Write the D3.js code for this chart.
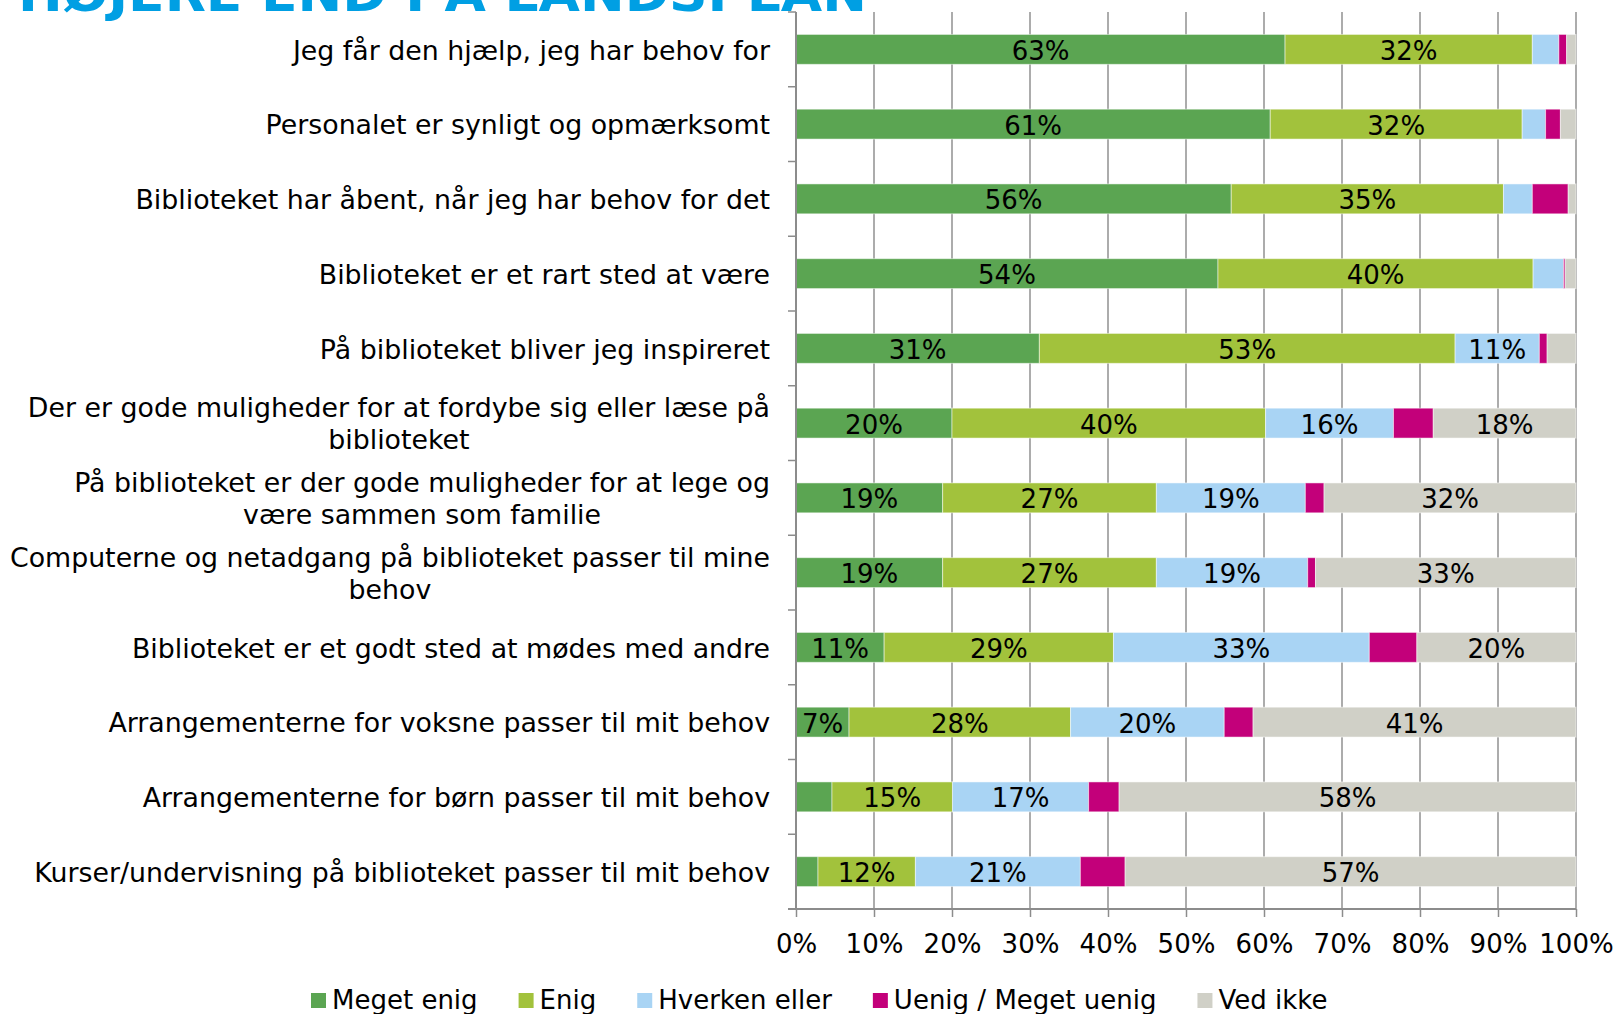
<!DOCTYPE html>
<html>
<head>
<meta charset="utf-8">
<script src="https://cdn.jsdelivr.net/npm/d3@7"></script>
<style>
  body { margin: 0; background: #fff; }
  text { font-family: "DejaVu Sans", Verdana, sans-serif; fill: #000; }
</style>
</head>
<body>
<svg id="chart" width="1618" height="1014"></svg>
<script>
const categories = [
  'Jeg får den hjælp, jeg har behov for',
  'Personalet er synligt og opmærksomt',
  'Biblioteket har åbent, når jeg har behov for det',
  'Biblioteket er et rart sted at være',
  'På biblioteket bliver jeg inspireret',
  'Der er gode muligheder for at fordybe sig eller læse på\nbiblioteket',
  'På biblioteket er der gode muligheder for at lege og\nvære sammen som familie',
  'Computerne og netadgang på biblioteket passer til mine\nbehov',
  'Biblioteket er et godt sted at mødes med andre',
  'Arrangementerne for voksne passer til mit behov',
  'Arrangementerne for børn passer til mit behov',
  'Kurser/undervisning på biblioteket passer til mit behov'
];

const seriesNames = ['Meget enig', 'Enig', 'Hverken eller', 'Uenig / Meget uenig', 'Ved ikke'];
const seriesColors = ['#5ba552', '#a2c23c', '#a9d4f4', '#c3007a', '#d0d0c7'];

const megetEnig = [62.7, 60.8, 55.8, 54.1, 31.2, 20.0, 18.8, 18.8, 11.3, 6.8, 4.6, 2.8];
const enig      = [31.7, 32.3, 34.9, 40.4, 53.3, 40.2, 27.4, 27.4, 29.4, 28.4, 15.4, 12.4];
const hverken   = [3.4, 3.0, 3.7, 3.9, 10.8, 16.4, 19.1, 19.4, 32.8, 19.7, 17.4, 21.0];
const uenig     = [1.0, 1.9, 4.6, 0.2, 1.0, 5.1, 2.4, 1.0, 6.1, 3.7, 3.9, 5.7];
const vedIkke   = [1.2, 2.0, 1.0, 1.4, 3.7, 18.3, 32.3, 33.4, 20.4, 41.4, 58.4, 57.4];

const xTicks = [0, 0.1, 0.2, 0.3, 0.4, 0.5, 0.6, 0.7, 0.8, 0.9, 1];
const title = 'HØJERE END PÅ LANDSPLAN';

const values = [megetEnig, enig, hverken, uenig, vedIkke];
const table = categories.map((c, i) => {
  const row = { category: c };
  seriesNames.forEach((s, j) => { row[s] = values[j][i]; });
  return row;
});

const stacked = d3.stack()
  .keys(seriesNames)
  .offset(d3.stackOffsetExpand)(table);

const svg = d3.select('#chart');

const xScale = d3.scaleLinear()
  .domain([0, 1])
  .range([796, 1576]);

const yScale = d3.scaleBand()
  .domain(categories)
  .range([12, 909])
  .paddingInner(0.6)
  .paddingOuter(0.3);

const color = d3.scaleOrdinal().domain(seriesNames).range(seriesColors);

// title, mostly cut off by the top edge (as in the source slide)
svg.append('text')
  .attr('x', 18)
  .attr('y', 11)
  .attr('textLength', 849)
  .attr('lengthAdjust', 'spacingAndGlyphs')
  .style('font-size', '50px')
  .style('font-weight', 'bold')
  .style('fill', '#009fe3')
  .text(title);

// gridlines
svg.append('g')
  .selectAll('line')
  .data(xTicks.slice(1))
  .enter()
    .append('line')
    .attr('x1', (d) => xScale(d))
    .attr('x2', (d) => xScale(d))
    .attr('y1', yScale.range()[0])
    .attr('y2', yScale.range()[1])
    .attr('stroke', '#909090')
    .attr('stroke-width', 1.5);

// bars
const layer = svg.append('g')
  .selectAll('g')
  .data(stacked)
  .enter()
    .append('g')
    .attr('fill', (d) => color(d.key));

layer.selectAll('rect')
  .data((d) => d)
  .enter()
    .append('rect')
    .attr('x', (d) => xScale(d[0]))
    .attr('y', (d) => yScale(d.data.category))
    .attr('width', (d) => xScale(d[1]) - xScale(d[0]))
    .attr('height', yScale.bandwidth())
    .attr('stroke', 'rgba(255,255,255,0.5)')
    .attr('stroke-width', 1);

// data labels
stacked.forEach((s) => {
  svg.append('g')
    .selectAll('text')
    .data(s.filter((d) => d.data[s.key] >= 6.5))
    .enter()
      .append('text')
      .attr('x', (d) => (xScale(d[0]) + xScale(d[1])) / 2)
      .attr('y', (d) => yScale(d.data.category) + yScale.bandwidth() / 2)
      .attr('dy', '0.4em')
      .attr('text-anchor', 'middle')
      .style('font-size', '26px')
      .text((d) => Math.round(d.data[s.key]) + '%');
});

// x axis
const xAxis = svg.append('g')
  .attr('transform', `translate(0,${yScale.range()[1]})`)
  .call(d3.axisBottom(xScale)
    .tickValues(xTicks)
    .tickFormat(d3.format('.0%'))
    .tickSizeInner(8)
    .tickSizeOuter(0)
    .tickPadding(18));

xAxis.select('.domain').remove();
xAxis.selectAll('.tick line').attr('stroke', '#8c8c8c').attr('stroke-width', 1.5);
xAxis.selectAll('.tick text')
  .style('font-size', '26px')
  .style('font-family', '"DejaVu Sans", Verdana, sans-serif')
  .attr('fill', '#000');

svg.append('line')
  .attr('x1', xScale(0) - 8)
  .attr('x2', xScale(1))
  .attr('y1', yScale.range()[1])
  .attr('y2', yScale.range()[1])
  .attr('stroke', '#8c8c8c')
  .attr('stroke-width', 2);

// y axis with ticks between categories
svg.append('line')
  .attr('x1', xScale(0))
  .attr('x2', xScale(0))
  .attr('y1', yScale.range()[0])
  .attr('y2', yScale.range()[1])
  .attr('stroke', '#8c8c8c')
  .attr('stroke-width', 2);

svg.append('g')
  .selectAll('line')
  .data(d3.range(categories.length))
  .enter()
    .append('line')
    .attr('x1', xScale(0) - 8)
    .attr('x2', xScale(0))
    .attr('y1', (i) => yScale.range()[0] + i * yScale.step())
    .attr('y2', (i) => yScale.range()[0] + i * yScale.step())
    .attr('stroke', '#8c8c8c')
    .attr('stroke-width', 1.5);

// category labels, centred lines in a right-aligned block
const labelRight = xScale(0) - 26;
const lineHeight = 32;

categories.forEach((c) => {
  const lines = c.split('\n');
  const g = svg.append('text')
    .style('font-size', '26.8px')
    .attr('text-anchor', 'middle');
  const cy = yScale(c) + yScale.bandwidth() / 2;
  const spans = lines.map((l, k) => g.append('tspan')
    .attr('y', cy + (k - (lines.length - 1) / 2) * lineHeight)
    .attr('dy', '0.38em')
    .text(l));
  const widest = d3.max(spans, (s) => s.node().getComputedTextLength());
  spans.forEach((s) => s.attr('x', labelRight - widest / 2));
});

// legend
const legend = svg.append('g');
let lx = 311;
seriesNames.forEach((s) => {
  legend.append('rect')
    .attr('x', lx)
    .attr('y', 993)
    .attr('width', 15)
    .attr('height', 15)
    .attr('fill', color(s));
  const t = legend.append('text')
    .attr('x', lx + 21)
    .attr('y', 1009)
    .style('font-size', '26px')
    .text(s);
  lx += 21 + t.node().getComputedTextLength() + 41;
});
</script>
</body>
</html>
